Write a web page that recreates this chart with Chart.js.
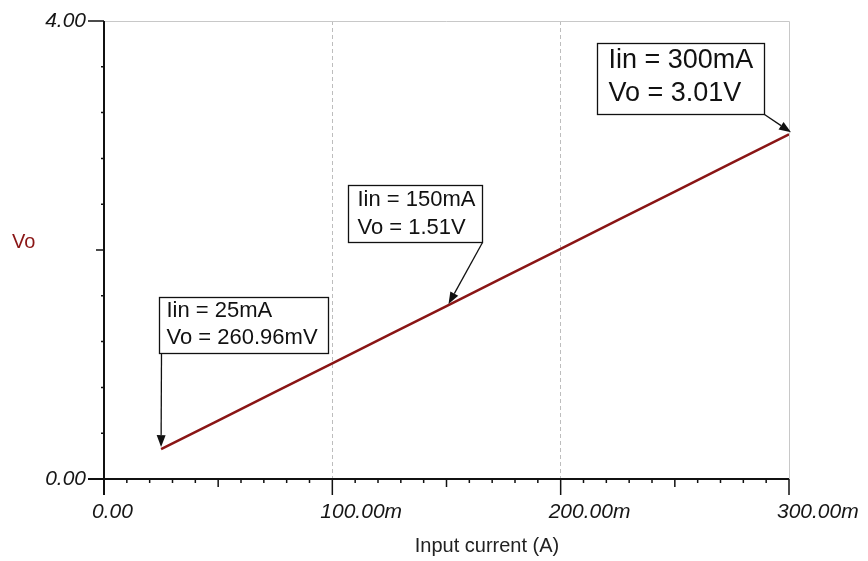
<!DOCTYPE html>
<html>
<head>
<meta charset="utf-8">
<script src="https://cdn.jsdelivr.net/npm/chart.js@4.4.1/dist/chart.umd.min.js"></script>
<style>
    html, body { margin: 0; padding: 0; background: #fff; }
    #wrap { width: 868px; height: 561px; }
</style>
</head>
<body>
<div id="wrap"><canvas id="chart"></canvas></div>
<script>
// sweep of input current (A) and output voltage (V)
const currents = [0.025, 0.05, 0.075, 0.1, 0.125, 0.15, 0.175, 0.2, 0.225, 0.25, 0.275, 0.3];
const voltages = [0.261, 0.51, 0.76, 1.01, 1.26, 1.51, 1.76, 2.01, 2.26, 2.51, 2.76, 3.01];

const xTickValues = [0, 0.1, 0.2, 0.3];
const xTickLabels = ['0.00', '100.00m', '200.00m', '300.00m'];
const yTickValues = [0, 4];
const yTickLabels = ['0.00', '4.00'];

// markers put on the curve
const markCurrents = [0.025, 0.15, 0.3];
const markVoltages = [0.26096, 1.51, 3.01];
const markTexts = [
    ['Iin = 25mA', 'Vo = 260.96mV'],
    ['Iin = 150mA', 'Vo = 1.51V'],
    ['Iin = 300mA', 'Vo = 3.01V']
];

const lineColor = '#8a1515';

// box placement relative to the marked point (px)
const boxes = [
    { dx: -2, dy: -152, w: 169, h: 56, size: 22, pad: 7, l1: 13, l2: 40, from: 'bl' },
    { dx: -99, dy: -121, w: 134, h: 57, size: 22, pad: 9, l1: 14, l2: 42, from: 'br' },
    { dx: -192, dy: -91, w: 167, h: 71, size: 27, pad: 11, l1: 17, l2: 50, from: 'br' }
];

function arrow(ctx, x1, y1, x2, y2) {
    const a = Math.atan2(y2 - y1, x2 - x1);
    const len = 12, half = 4.5;
    ctx.beginPath();
    ctx.moveTo(x1, y1);
    ctx.lineTo(x2 - Math.cos(a) * len, y2 - Math.sin(a) * len);
    ctx.stroke();
    ctx.beginPath();
    ctx.moveTo(x2, y2);
    ctx.lineTo(x2 - Math.cos(a) * len - Math.sin(a) * half, y2 - Math.sin(a) * len + Math.cos(a) * half);
    ctx.lineTo(x2 - Math.cos(a) * len + Math.sin(a) * half, y2 - Math.sin(a) * len - Math.cos(a) * half);
    ctx.closePath();
    ctx.fill();
}

const framePlugin = {
    id: 'frame',
    beforeDatasetsDraw(chart) {
        const { ctx, chartArea: a, scales: { x, y } } = chart;
        ctx.save();
        // light frame top and right
        ctx.strokeStyle = '#c8c8c8';
        ctx.lineWidth = 1;
        ctx.beginPath();
        ctx.moveTo(a.left, a.top + 0.5);
        ctx.lineTo(a.right + 0.5, a.top + 0.5);
        ctx.lineTo(a.right + 0.5, a.bottom);
        ctx.stroke();

        // axes
        ctx.strokeStyle = '#111';
        ctx.lineWidth = 2;
        ctx.beginPath();
        ctx.moveTo(a.left, a.top);
        ctx.lineTo(a.left, a.bottom + 16);
        ctx.moveTo(a.left - 16, a.bottom);
        ctx.lineTo(a.right, a.bottom);
        ctx.stroke();

        // x ticks every 10m
        ctx.lineWidth = 1.5;
        ctx.beginPath();
        for (let i = 1; i <= 30; i++) {
            const px = x.getPixelForValue(i / 100);
            const len = i % 10 === 0 ? 16 : (i % 5 === 0 ? 8 : 4);
            ctx.moveTo(px, a.bottom);
            ctx.lineTo(px, a.bottom + len);
        }
        // y ticks every 0.4
        for (let i = 0; i <= 10; i++) {
            const py = y.getPixelForValue(i * 0.4);
            const len = (i === 0 || i === 10) ? 16 : (i === 5 ? 8 : 3);
            ctx.moveTo(a.left, py);
            ctx.lineTo(a.left - len, py);
        }
        ctx.stroke();

        // axis titles
        ctx.font = '20px "Liberation Sans", Arial, sans-serif';
        ctx.textBaseline = 'middle';
        ctx.textAlign = 'center';
        ctx.fillStyle = '#222';
        ctx.fillText('Input current (A)', 487, 546);
        ctx.textAlign = 'left';
        ctx.fillStyle = lineColor;
        ctx.fillText('Vo', 12, 242);
        ctx.restore();
    },
    afterDatasetsDraw(chart) {
        const { ctx, scales: { x, y } } = chart;
        ctx.save();
        markCurrents.forEach((c, i) => {
            const px = x.getPixelForValue(c);
            const py = y.getPixelForValue(markVoltages[i]);
            const b = boxes[i];
            const bx = Math.round(px + b.dx) + 0.5;
            const by = Math.round(py + b.dy) + 0.5;

            ctx.strokeStyle = '#111';
            ctx.fillStyle = '#111';
            ctx.lineWidth = 1.3;
            const sx = b.from === 'bl' ? bx + 2 : bx + b.w;
            arrow(ctx, sx, by + b.h, px + (b.from === 'bl' ? 0 : 2), py - 2);

            ctx.fillStyle = '#fff';
            ctx.fillRect(bx, by, b.w, b.h);
            ctx.lineWidth = 1.3;
            ctx.strokeRect(bx, by, b.w, b.h);

            ctx.fillStyle = '#111';
            ctx.font = b.size + 'px "Liberation Sans", Arial, sans-serif';
            ctx.textAlign = 'left';
            ctx.textBaseline = 'middle';
            ctx.fillText(markTexts[i][0], bx + b.pad, by + b.l1);
            ctx.fillText(markTexts[i][1], bx + b.pad, by + b.l2);
        });
        ctx.restore();
    }
};

const points = currents.map((c, i) => ({ x: c, y: voltages[i] }));

new Chart(document.getElementById('chart'), {
    type: 'line',
    data: {
        datasets: [{
            label: 'Vo',
            data: points,
            borderColor: lineColor,
            borderWidth: 2.5,
            pointRadius: 0,
            tension: 0,
            fill: false
        }]
    },
    options: {
        responsive: true,
        maintainAspectRatio: false,
        animation: false,
        layout: { padding: { top: 21, right: 79, left: 0, bottom: 0 } },
        plugins: { legend: { display: false }, tooltip: { enabled: false } },
        scales: {
            x: {
                type: 'linear',
                min: 0,
                max: 0.3,
                afterBuildTicks: s => { s.ticks = xTickValues.map(v => ({ value: v })); },
                afterFit: s => { s.height = 82; s.paddingRight = 0; s.paddingLeft = 0; },
                ticks: {
                    align: 'start',
                    labelOffset: -12,
                    padding: 21,
                    color: '#161616',
                    font: { family: '"Liberation Sans", Arial, sans-serif', size: 21, style: 'italic' },
                    callback: (v, i) => xTickLabels[i]
                },
                grid: {
                    drawTicks: false,
                    lineWidth: 1,
                    color: c => (c.tick && c.tick.value > 0 && c.tick.value < 0.3) ? '#bdbdbd' : 'transparent'
                },
                border: { display: false, dash: [4, 3] }
            },
            y: {
                type: 'linear',
                min: 0,
                max: 4,
                afterBuildTicks: s => { s.ticks = yTickValues.map(v => ({ value: v })); },
                afterFit: s => { s.width = 104; s.paddingTop = 0; s.paddingBottom = 0; },
                ticks: {
                    padding: 18,
                    color: '#161616',
                    font: { family: '"Liberation Sans", Arial, sans-serif', size: 21, style: 'italic' },
                    callback: (v, i) => yTickLabels[i]
                },
                grid: { display: false, drawTicks: false },
                border: { display: false }
            }
        }
    },
    plugins: [framePlugin]
});
</script>
</body>
</html>
